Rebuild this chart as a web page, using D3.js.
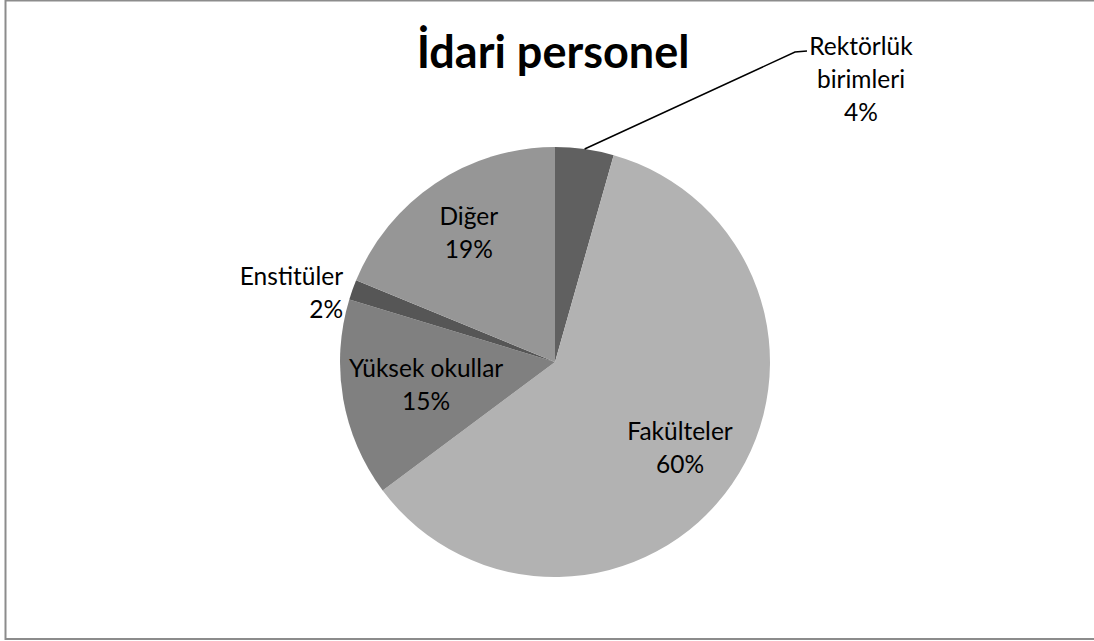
<!DOCTYPE html>
<html>
<head>
<meta charset="utf-8">
<script src="https://cdn.jsdelivr.net/npm/d3@7"></script>
<style>
  html, body { margin: 0; padding: 0; background: #fff; }
  svg { display: block; }
  text { font-family: Lato, "Open Sans", sans-serif; fill: #000; }
</style>
</head>
<body>
<svg id="chart" width="1094" height="641"></svg>
<script>
// ---- data ----
const title = "İdari personel";
const categories = ["Rektörlük birimleri", "Fakülteler", "Yüksek okullar", "Enstitüler", "Diğer"];
const labelLines = [["Rektörlük", "birimleri"], ["Fakülteler"], ["Yüksek okullar"], ["Enstitüler"], ["Diğer"]];
const values = [4.4, 60.4, 14.9, 1.5, 18.8];
const colors = ["#606060", "#b2b2b2", "#808080", "#565656", "#969696"];

// ---- layout ----
const W = 1094, H = 641;
const cx = 555, cy = 362, R = 215;
const fontSize = 24.5, lineH = 33;

const svg = d3.select("#chart");
svg.append("rect").attr("x", 5.5).attr("y", 0.5).attr("width", W).attr("height", 638.5)
  .attr("fill", "#fff").attr("stroke", "#8c8c8c").attr("stroke-width", 2);

svg.append("text").attr("x", 553).attr("y", 68).attr("text-anchor", "middle")
  .attr("font-size", 45).attr("font-weight", "bold").text(title);

const data = categories.map((c, i) => ({ name: c, lines: labelLines[i], value: values[i], color: colors[i] }));
const total = d3.sum(values);
const pie = d3.pie().value(d => d.value).sort(null);
const arcs = pie(data);
const arc = d3.arc().innerRadius(0).outerRadius(R);

const g = svg.append("g").attr("transform", `translate(${cx},${cy})`);
g.selectAll("path").data(arcs).join("path")
  .attr("d", arc).attr("fill", d => d.data.color);

const pct = d => Math.round(d.data.value / total * 100) + "%";

function drawLabel(x, y, lines, anchor) {
  const n = lines.length;
  const t = svg.append("text").attr("text-anchor", anchor).attr("font-size", fontSize);
  lines.forEach((s, i) => {
    t.append("tspan").attr("x", x).attr("y", y + (i - (n - 1) / 2) * lineH + fontSize * 0.35).text(s);
  });
  return t;
}

arcs.forEach((a, i) => {
  const mid = (a.startAngle + a.endAngle) / 2;
  const sx = Math.sin(mid), sy = -Math.cos(mid);
  const lines = a.data.lines.concat([pct(a)]);
  const frac = a.data.value / total;
  if (i === 0) {
    const p0 = [cx + sx * R, cy + sy * R];
    svg.append("path").attr("fill", "none").attr("stroke", "#000").attr("stroke-width", 1.5)
      .attr("d", `M${p0[0]},${p0[1]} L795,52 L807,51`);
    drawLabel(861, 79, lines, "middle");
  } else if (frac < 0.03) {
    const rr = R + 10;
    drawLabel(cx + sx * rr, cy + sy * rr + 6, lines, "end");
  } else {
    const tmp = drawLabel(0, 0, lines, "middle");
    const bb = tmp.node().getBBox();
    tmp.remove();
    let r = 0.72 * R;
    for (; r > 20; r -= 1) {
      const x = sx * r, y = sy * r;
      const corners = [[x - bb.width / 2, y - bb.height / 2], [x + bb.width / 2, y - bb.height / 2],
                       [x - bb.width / 2, y + bb.height / 2], [x + bb.width / 2, y + bb.height / 2]];
      if (corners.every(c => Math.hypot(c[0], c[1]) <= R - 2)) break;
    }
    drawLabel(cx + sx * r, cy + sy * r, lines, "middle");
  }
});
</script>
</body>
</html>
